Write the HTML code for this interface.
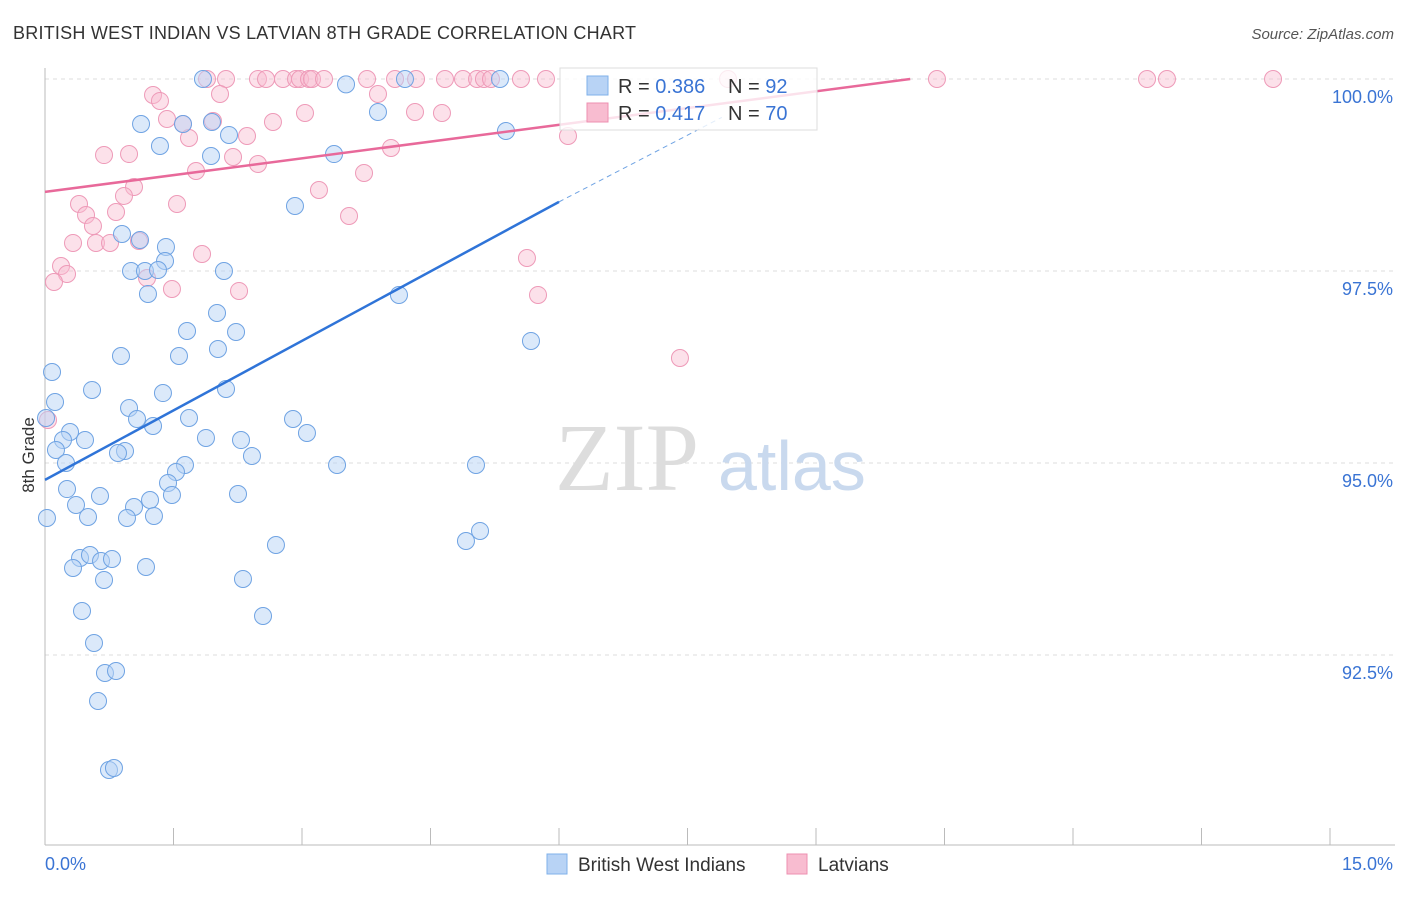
<!DOCTYPE html>
<html><head><meta charset="utf-8"><style>
body{margin:0;background:#fff;width:1406px;height:892px;overflow:hidden;font-family:"Liberation Sans",sans-serif}
</style></head><body>
<svg id="chart" width="1406" height="892" xmlns="http://www.w3.org/2000/svg" font-family="Liberation Sans, sans-serif">
<text x="13" y="39" font-size="18" fill="#333" textLength="623">BRITISH WEST INDIAN VS LATVIAN 8TH GRADE CORRELATION CHART</text>
<text x="1394" y="39" font-size="15" fill="#555" text-anchor="end" font-style="italic">Source: ZipAtlas.com</text>
<text transform="translate(34,455) rotate(-90)" font-size="17" fill="#333" text-anchor="middle">8th Grade</text>
<g id="grid"></g>
<g id="watermark">
<text x="555" y="490" font-size="96" font-family="Liberation Serif, serif" fill="#ddd">ZIP</text>
<text x="718" y="490" font-size="70" fill="#c9d9ee">atlas</text>
</g>
<g id="pts"></g>
<g id="lines"></g>
<g id="legend">
<rect x="560" y="68" width="257" height="62" fill="#fff" fill-opacity="0.8" stroke="#ddd"/>
<rect x="587" y="76" width="21" height="19" fill="#b8d3f5" stroke="#7fb0ea"/>
<rect x="587" y="103" width="21" height="19" fill="#f8bcd0" stroke="#ee8fb0"/>
<text x="618" y="93" font-size="20" fill="#333">R = <tspan fill="#3a74d4">0.386</tspan></text>
<text x="728" y="93" font-size="20" fill="#333">N = <tspan fill="#3a74d4">92</tspan></text>
<text x="618" y="120" font-size="20" fill="#333">R = <tspan fill="#3a74d4"> 0.417</tspan></text>
<text x="728" y="120" font-size="20" fill="#333">N = <tspan fill="#3a74d4">70</tspan></text>
</g>
<g>
<rect x="547" y="854" width="20" height="20" fill="#b8d3f5" stroke="#7fb0ea"/>
<text x="578" y="871" font-size="19" fill="#333">British West Indians</text>
<rect x="787" y="854" width="20" height="20" fill="#f8bcd0" stroke="#ee8fb0"/>
<text x="818" y="871" font-size="19" fill="#333">Latvians</text>
</g>
</svg>
<script>
const xTicks=[0,1.5,3,4.5,6,7.5,9,10.5,12,13.5,15];
const yTicks=[100,97.5,95,92.5];
const yTickLabels=["100.0%","97.5%","95.0%","92.5%"];
const blueX=[1.844,3.514,4.202,5.311,1.121,1.611,1.949,2.148,1.342,1.938,3.374,3.887,5.381,2.918,0.899,1.109,1.412,1.401,1.004,1.167,1.319,2.089,1.202,4.132,2.008,1.658,2.23,5.673,2.019,0.887,1.564,0.082,0.549,1.377,2.113,0.117,0.981,1.074,1.681,2.895,1.261,3.058,0.292,0.21,0.467,1.879,2.288,0.128,0.934,0.852,2.416,0.245,1.634,3.409,5.031,1.529,1.436,0.257,0.642,2.253,1.226,1.482,0.362,1.039,0.023,0.502,0.957,1.272,2.696,4.914,5.078,0.409,0.525,0.327,0.654,0.782,1.179,0.689,2.311,0.432,2.545,0.572,0.7,0.829,0.619,0.747,0.805,0.012];
const blueY=[100,99.93,100,100,99.414,99.414,99.44,99.271,99.128,98.997,99.023,99.57,99.323,98.346,97.982,97.904,97.813,97.63,97.5,97.5,97.513,97.5,97.201,97.188,96.953,96.719,96.706,96.589,96.484,96.393,96.393,96.185,95.951,95.911,95.964,95.794,95.716,95.573,95.586,95.573,95.482,95.391,95.404,95.299,95.299,95.326,95.299,95.169,95.156,95.13,95.091,95.0,94.974,94.974,94.974,94.883,94.74,94.661,94.57,94.596,94.518,94.583,94.453,94.427,94.284,94.297,94.284,94.31,93.932,93.984,94.115,93.763,93.802,93.633,93.724,93.75,93.646,93.477,93.49,93.073,93.008,92.656,92.266,92.292,91.901,91.003,91.029,95.586];
const pinkX=[1.891,2.113,2.486,2.58,2.778,2.93,2.977,3.082,3.117,3.257,3.759,4.086,4.331,4.669,4.879,5.043,5.124,5.206,5.556,5.848,7.973,10.412,12.864,13.097,14.335,1.261,1.342,2.043,3.887,1.424,1.611,1.961,2.661,3.035,4.319,4.634,1.681,2.358,6.105,0.689,0.981,2.195,2.486,4.039,1.763,3.724,3.198,1.039,0.922,0.397,1.541,0.479,0.829,3.549,0.56,0.327,0.595,0.759,1.097,1.833,0.187,0.257,0.105,5.626,1.482,1.191,2.265,5.755,7.412,0.035];
const pinkY=[100,100,100,100,100,100,100,100,100,100,100,100,100,100,100,100,100,100,100,100,100,100,100,100,100,99.792,99.714,99.805,99.805,99.479,99.414,99.453,99.44,99.557,99.57,99.557,99.232,99.258,99.258,99.01,99.023,98.984,98.893,99.102,98.802,98.776,98.555,98.594,98.477,98.372,98.372,98.229,98.268,98.216,98.086,97.865,97.865,97.865,97.891,97.721,97.565,97.461,97.357,97.669,97.266,97.409,97.24,97.188,96.367,95.56];
const blueFit=[[0,94.78],[6,98.4],[7.9,99.5]];
const pinkFit=[[0,98.53],[10.1,100]];
const NS="http://www.w3.org/2000/svg";
const X=v=>45+v/15*1285, Y=v=>79+(100-v)*76.8;
function mk(t,a,p){const e=document.createElementNS(NS,t);for(const k in a)e.setAttribute(k,a[k]);p.appendChild(e);return e;}
const grid=document.getElementById('grid');
yTicks.forEach((v,i)=>{
 const l=mk('line',{x1:45,x2:1395,y1:Y(v),y2:Y(v),stroke:'#ddd','stroke-dasharray':'4,4'},grid);
 
 
 const t=mk('text',{x:1393,y:Y(v)+24,'font-size':18,fill:'#3a74d4','text-anchor':'end'},grid);
 t.textContent=yTickLabels[i];
 
 
});
mk('line',{x1:45,x2:45,y1:68,y2:845,stroke:'#bbb'},grid);
mk('line',{x1:45,x2:1395,y1:845,y2:845,stroke:'#bbb'},grid);
xTicks.forEach(v=>{const l=mk('line',{x1:X(v),x2:X(v),y1:828,y2:845,stroke:'#bbb'},grid);
 
 });
let t=mk('text',{x:45,y:870,'font-size':18,fill:'#3a74d4'},grid);t.textContent='0.0%';
t=mk('text',{x:1393,y:870,'font-size':18,fill:'#3a74d4','text-anchor':'end'},grid);t.textContent='15.0%';
const pts=document.getElementById('pts');
pinkX.forEach((v,i)=>{const c=mk('circle',{cx:X(v),cy:Y(pinkY[i]),r:8.5,fill:'#f8bcd0','fill-opacity':0.45,stroke:'#ee9ab8','stroke-width':1},pts);
 
 });
blueX.forEach((v,i)=>{const c=mk('circle',{cx:X(v),cy:Y(blueY[i]),r:8.5,fill:'#b8d3f5','fill-opacity':0.5,stroke:'#6fa3e3','stroke-width':1},pts);
 
 });
const lines=document.getElementById('lines');
let l=mk('line',{x1:X(blueFit[0][0]),y1:Y(blueFit[0][1]),x2:X(blueFit[1][0]),y2:Y(blueFit[1][1]),stroke:'#2f74d8','stroke-width':2.5},lines);


l=mk('line',{x1:X(blueFit[1][0]),y1:Y(blueFit[1][1]),x2:X(blueFit[2][0]),y2:Y(blueFit[2][1]),stroke:'#6fa3e3','stroke-width':1,'stroke-dasharray':'5,4'},lines);


l=mk('line',{x1:X(pinkFit[0][0]),y1:Y(pinkFit[0][1]),x2:X(pinkFit[1][0]),y2:Y(pinkFit[1][1]),stroke:'#e8699a','stroke-width':2.5},lines);


</script>
</body></html>
